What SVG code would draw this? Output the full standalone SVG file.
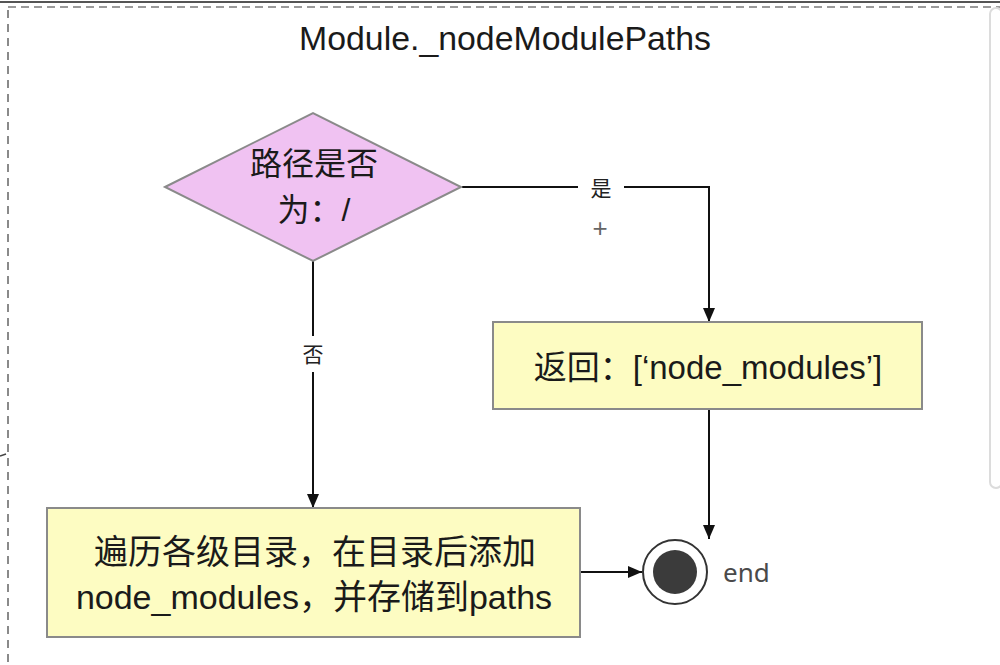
<svg xmlns="http://www.w3.org/2000/svg" width="1000" height="665" viewBox="0 0 1000 665">
<style>
.t{font-family:"Liberation Sans","Noto Sans CJK SC",sans-serif;fill:#1a1a1a;text-anchor:middle;dominant-baseline:central}
.lbl{font-family:"Liberation Sans","Noto Sans CJK SC",sans-serif;fill:#222;font-size:21px;text-anchor:middle;dominant-baseline:central}
.box{fill:#fdfcc2;stroke:#8a8a8a;stroke-width:2}
.edge{fill:none;stroke:#111;stroke-width:2}
</style>
<defs>
<marker id="arr" viewBox="0 0 14 12" refX="14" refY="6" markerWidth="14" markerHeight="12" markerUnits="userSpaceOnUse" orient="auto">
<path d="M0,0 L14,6 L0,12 z" fill="#111"/>
</marker>
</defs>
<rect x="0" y="0" width="1000" height="665" fill="#ffffff"/>
<g id="frame">
<line x1="0" y1="2" x2="1000" y2="2" stroke="#555" stroke-width="2"/>
<line x1="8" y1="7" x2="1000" y2="7" stroke="#9a9a9a" stroke-width="2" stroke-dasharray="8,5"/>
<line x1="8" y1="10" x2="8" y2="665" stroke="#8a8a8a" stroke-width="2" stroke-dasharray="8,6"/>
<line x1="0" y1="456" x2="6" y2="454" stroke="#444" stroke-width="1.5"/>
<rect x="990" y="8" width="12" height="480" rx="6" fill="#fff" stroke="#dcdcdc" stroke-width="2"/>
</g>
<text class="t" x="505" y="38" font-size="33" textLength="412" lengthAdjust="spacingAndGlyphs">Module._nodeModulePaths</text>
<g id="connectors">
<polyline class="edge" points="462,187 578,187"/>
<polyline class="edge" points="624,187 709,187 709,322" marker-end="url(#arr)"/>
<polyline class="edge" points="313,261 313,336"/>
<polyline class="edge" points="313,372 313,508" marker-end="url(#arr)"/>
<polyline class="edge" points="709,409 709,539" marker-end="url(#arr)"/>
<polyline class="edge" points="580,572 642,572" marker-end="url(#arr)"/>
<text class="lbl" x="601" y="188">是</text>
<text class="lbl" x="313" y="354">否</text>
<text x="600" y="228" font-family="Liberation Sans, sans-serif" font-size="26" fill="#666" text-anchor="middle" dominant-baseline="central">+</text>
</g>
<g id="decision">
<polygon points="165,187 313,113 461,187 313,261" fill="#f0c2f2" stroke="#8a8a8a" stroke-width="2"/>
<text class="t" x="314" y="164" font-size="32">路径是否</text>
<text class="t" x="314" y="210" font-size="32">为：/</text>
</g>
<g id="return">
<rect class="box" x="493" y="322" width="429" height="87"/>
<text class="t" x="708" y="367" font-size="33">返回：[‘node_modules’]</text>
</g>
<g id="iterate">
<rect class="box" x="47" y="508" width="533" height="129"/>
<text class="t" x="315" y="552" font-size="34">遍历各级目录，在目录后添加</text>
<text class="t" x="314" y="597" font-size="34">node_modules，并存储到paths</text>
</g>
<g id="end">
<circle cx="675" cy="572" r="32" fill="#fff" stroke="#333" stroke-width="2"/>
<circle cx="675" cy="572" r="22" fill="#3b3b3b"/>
<text x="723" y="572" font-family="'Noto Sans', Lato, sans-serif" font-size="26" fill="#4a4a4a" dominant-baseline="central">end</text>
</g>
</svg>
